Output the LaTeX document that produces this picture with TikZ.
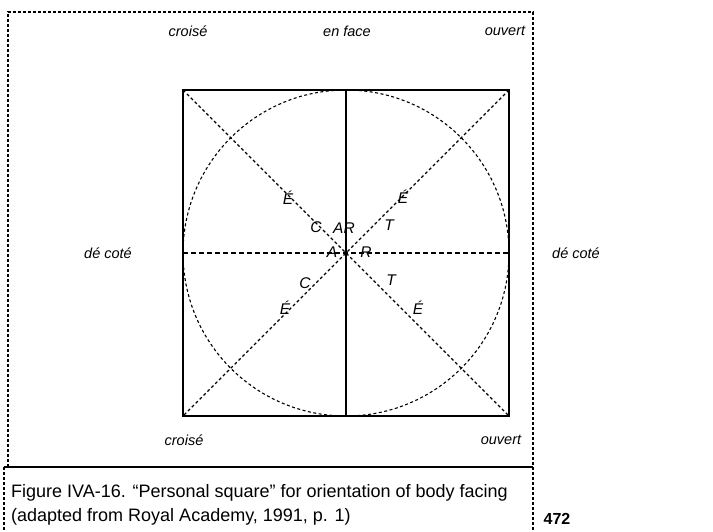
\documentclass[tikz,border=0pt]{standalone}
\usepackage{fontspec}
\setmainfont{Liberation Sans}
\begin{document}
\begin{tikzpicture}[x=1pt,y=-1pt,
  frame/.style={line width=1.6pt,dash pattern=on 3pt off 2pt},
  solidline/.style={line width=1.7pt},
  diag/.style={line width=1.1pt,dash pattern=on 3pt off 2.5pt},
  horiz/.style={line width=1.4pt,dash pattern=on 5pt off 3pt},
  circ/.style={line width=1.1pt,dash pattern=on 3pt off 2.5pt},
  lab/.style={font=\fontsize{14.5}{16}\selectfont\itshape,inner sep=0pt},
  letterlab/.style={font=\fontsize{15.5}{17}\selectfont\itshape,inner sep=0pt},
  captext/.style={font=\fontsize{18}{24}\selectfont,inner sep=0pt,anchor=west},
]
\useasboundingbox (0,0) rectangle (713,531);
% outer frame
\coordinate (f1) at (8,12);
\coordinate (f2) at (533,12);
\coordinate (f3) at (533,531);
\coordinate (f4) at (8,467);
\coordinate (k1) at (4,467);
\coordinate (k2) at (4,531);
\coordinate (k3) at (533,467);
\draw[frame] (f4) -- (f1) -- (f2) -- (f3);
\draw[frame] (k1) -- (k2);
\draw[line width=1.2pt] (k1) -- (k3);
% square
\coordinate (c) at (346,253);
\coordinate (tl) at (183,90);
\coordinate (tr) at (509,90);
\coordinate (bl) at (183,416);
\coordinate (br) at (509,416);
\coordinate (tm) at (346,90);
\coordinate (bm) at (346,416);
\coordinate (lm) at (183,253);
\coordinate (rm) at (509,253);
\draw[circ] (c) circle[radius=163];
\draw[diag] (tl) -- (br);
\draw[diag] (tr) -- (bl);
\draw[horiz] (lm) -- (rm);
\draw[solidline] (tm) -- (bm);
\draw[solidline] (tl) rectangle (br);
% outer labels
\node[lab] (n1) at (188,31) {croisé};
\node[lab] (n2) at (347,31) {en face};
\node[lab] (n3) at (505,31) {ouvert};
\node[lab] (n4) at (108,253) {dé coté};
\node[lab] (n5) at (576,253) {dé coté};
\node[lab] (n6) at (184,440) {croisé};
\node[lab] (n7) at (501,440) {ouvert};
% inner letters
\node[letterlab] (e1) at (288,198) {É};
\node[letterlab] (c1) at (316,227) {C};
\node[letterlab] (ar) at (344,228) {AR};
\node[letterlab] (a2) at (332,252) {A};
\node[letterlab] (r2) at (366,252) {R};
\node[letterlab] (e2) at (403,197) {É};
\node[letterlab] (t1) at (389,225) {T};
\node[letterlab] (t2) at (391,280) {T};
\node[letterlab] (e3) at (418,308) {É};
\node[letterlab] (c2) at (305,283) {C};
\node[letterlab] (e4) at (285,308) {É};
% caption
\node[captext] (cap1) at (11,493) {Figure IVA-16. “Personal square” for orientation of body facing};
\node[captext] (cap2) at (11,517) {(adapted from Royal Academy, 1991, p. 1)};
\node[font=\fontsize{16}{18}\selectfont\bfseries,inner sep=0pt] (pg) at (557,519) {472};
\end{tikzpicture}
\end{document}
